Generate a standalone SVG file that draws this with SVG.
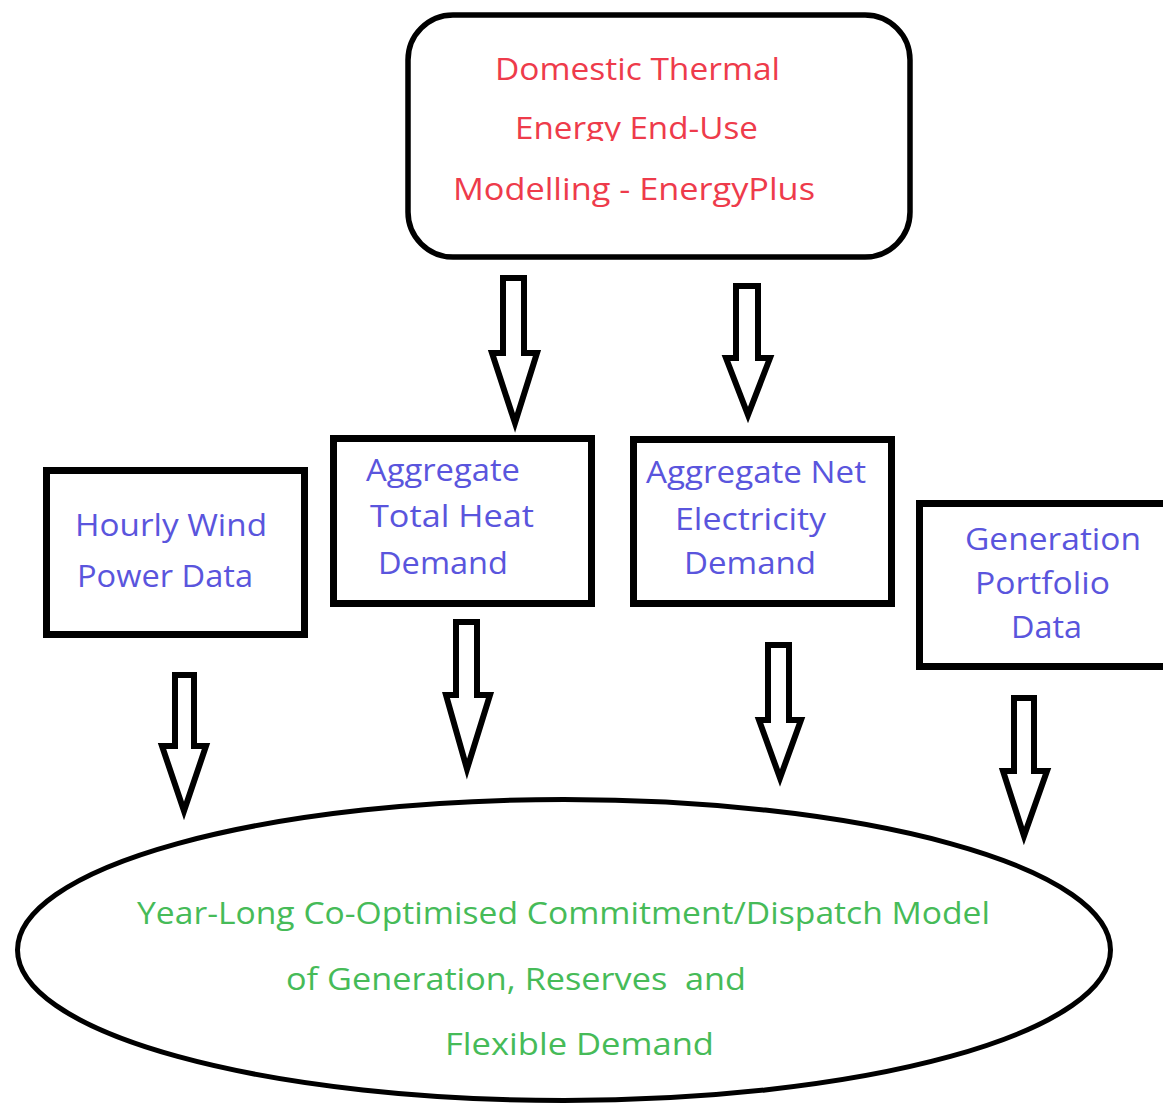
<svg xmlns="http://www.w3.org/2000/svg" width="1163" height="1106" viewBox="0 0 1163 1106">
<style>
.box{fill:#fff;stroke:#000;stroke-width:7}
.rbox{fill:#fff;stroke:#000;stroke-width:5.5}
.ell{fill:#fff;stroke:#000;stroke-width:5}
.arrow{fill:#fff;stroke:#000;stroke-width:6;stroke-linejoin:miter;stroke-miterlimit:6}
text{font-family:"Open Sans","Liberation Sans",sans-serif;font-size:31px}
.red{fill:#ee3b4b}
.blue{fill:#5a55dd}
.green{fill:#46bb58}
</style>
<defs>
<clipPath id="clipEnergy"><rect x="400" y="100" width="500" height="41"/></clipPath>
</defs>
<rect width="1163" height="1106" fill="#fff"/>

<g id="connectors">
<polygon class="arrow" points="503,278 524,278 524,353 537,353 515,423 492,353 503,353"/>
<polygon class="arrow" points="736,286 758,286 758,358 770,358 748,415 726,358 736,358"/>
<polygon class="arrow" points="175,675 194,675 194,746 206,746 184,811 162,746 175,746"/>
<polygon class="arrow" points="456,622 477,622 477,695 490,695 467,769 446,695 456,695"/>
<polygon class="arrow" points="768,645 789,645 789,720 801,720 780,778 759,720 768,720"/>
<polygon class="arrow" points="1014,698 1034,698 1034,771 1047,771 1024,836 1003,771 1014,771"/>
</g>

<g id="node-energyplus">
<rect class="rbox" x="408" y="15" width="502" height="242" rx="45" ry="45"/>
<text class="red" x="495" y="80" textLength="285" lengthAdjust="spacingAndGlyphs">Domestic Thermal</text>
<text class="red" x="515" y="139" textLength="243" lengthAdjust="spacingAndGlyphs" clip-path="url(#clipEnergy)">Energy End-Use</text>
<text class="red" x="453" y="200" textLength="362" lengthAdjust="spacingAndGlyphs">Modelling - EnergyPlus</text>
</g>

<g id="node-wind">
<rect class="box" x="46.5" y="470.5" width="258" height="164"/>
<text class="blue" x="75" y="536" textLength="192" lengthAdjust="spacingAndGlyphs">Hourly Wind</text>
<text class="blue" x="77" y="587" textLength="176" lengthAdjust="spacingAndGlyphs">Power Data</text>
</g>

<g id="node-heat">
<rect class="box" x="333.5" y="438.5" width="258" height="165"/>
<text class="blue" x="366" y="481" textLength="154" lengthAdjust="spacingAndGlyphs">Aggregate</text>
<text class="blue" x="370" y="527" textLength="164" lengthAdjust="spacingAndGlyphs">Total Heat</text>
<text class="blue" x="378" y="574" textLength="130" lengthAdjust="spacingAndGlyphs">Demand</text>
</g>

<g id="node-electricity">
<rect class="box" x="633.5" y="439.5" width="258" height="164"/>
<text class="blue" x="646" y="483" textLength="220" lengthAdjust="spacingAndGlyphs">Aggregate Net</text>
<text class="blue" x="675" y="530" textLength="151" lengthAdjust="spacingAndGlyphs">Electricity</text>
<text class="blue" x="684" y="574" textLength="132" lengthAdjust="spacingAndGlyphs">Demand</text>
</g>

<g id="node-generation">
<rect class="box" x="919.5" y="503.5" width="260" height="163"/>
<text class="blue" x="965" y="550" textLength="176" lengthAdjust="spacingAndGlyphs">Generation</text>
<text class="blue" x="975" y="594" textLength="135" lengthAdjust="spacingAndGlyphs">Portfolio</text>
<text class="blue" x="1011" y="638" textLength="71" lengthAdjust="spacingAndGlyphs">Data</text>
</g>

<g id="node-model">
<ellipse class="ell" cx="564" cy="950" rx="546.5" ry="150.5"/>
<text class="green" x="137" y="924" textLength="853" lengthAdjust="spacingAndGlyphs">Year-Long Co-Optimised Commitment/Dispatch Model</text>
<text class="green" x="286" y="990" textLength="460" lengthAdjust="spacingAndGlyphs" xml:space="preserve">of Generation, Reserves  and</text>
<text class="green" x="445" y="1055" textLength="269" lengthAdjust="spacingAndGlyphs">Flexible Demand</text>
</g>
</svg>
